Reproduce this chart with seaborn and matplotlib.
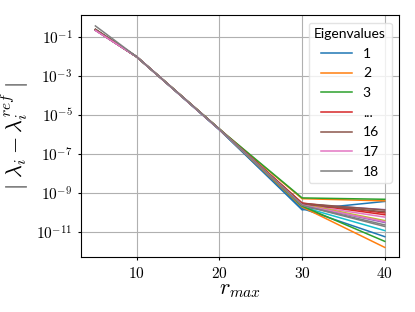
import numpy as np
import pandas as pd
import seaborn as sns
import matplotlib.pyplot as plt

# r_max values and log10 of the eigenvalue errors
r_max = [5, 10, 20, 30, 40]
eig_ids = list(range(1, 19))
log_err_5 = [-0.66, -0.66, -0.64, -0.65, -0.66, -0.65, -0.68, -0.62, -0.65,
             -0.66, -0.66, -0.66, -0.64, -0.65, -0.66, -0.62, -0.68, -0.45]
log_err_10 = [-2.03] * 18
log_err_20 = [-5.75, -5.73, -5.72, -5.73, -5.74, -5.73, -5.74, -5.73, -5.73,
              -5.75, -5.76, -5.74, -5.72, -5.73, -5.74, -5.73, -5.74, -5.73]
log_err_30 = [-9.85, -9.28, -9.24, -9.50, -9.55, -9.52, -9.58, -9.62, -9.56,
              -9.70, -9.78, -9.70, -9.66, -9.52, -9.60, -9.55, -9.60, -9.62]
log_err_40 = [-9.42, -9.39, -9.31, -10.01, -9.84, -9.86, -10.22, -10.70, -10.40,
              -10.91, -11.22, -11.77, -11.46, -10.10, -10.50, -9.95, -10.45, -10.62]
y_ticks = [1e-11, 1e-9, 1e-7, 1e-5, 1e-3, 1e-1]

rows = []
for i, e in enumerate(eig_ids):
    for r, col in zip(r_max, [log_err_5, log_err_10, log_err_20, log_err_30, log_err_40]):
        rows.append({'r': r, 'err': 10 ** col[i], 'eig': e})
df = pd.DataFrame(rows)

plt.rcParams['mathtext.fontset'] = 'cm'
plt.rcParams['font.family'] = 'serif'
plt.rcParams['font.serif'] = ['cmr10', 'DejaVu Serif']
plt.rcParams['axes.formatter.use_mathtext'] = True

fig, ax = plt.subplots(figsize=(4.15, 3.12), dpi=100)
palette = (sns.color_palette('tab10', 10) * 2)[:18]
sns.lineplot(data=df, x='r', y='err', hue='eig', palette=palette, legend=False,
             linewidth=1.1, ax=ax)
ax.set_yscale('log')
ax.set_yticks(y_ticks)
ax.set_ylim(10 ** -12.28, 10 ** 0.11)
ax.set_xticks([10, 20, 30, 40])
ax.grid(True, color='#b0b0b0', linewidth=0.8)
ax.tick_params(labelsize=11, length=2.5)
ax.set_xlabel(r'$r_{max}$', fontsize=16, labelpad=0)
ax.set_ylabel(r'$|\ \lambda_i - \lambda_i^{ref}\ |$', fontsize=16)

# legend: first three, a gap marker, last three
lines = ax.get_lines()
shown = [0, 1, 2, 3, 15, 16, 17]
labels = ['1', '2', '3', '...', '16', '17', '18']
leg = ax.legend([lines[i] for i in shown], labels, title='Eigenvalues',
                prop={'family': 'Lato', 'size': 10}, loc='upper right',
                framealpha=0.8, edgecolor='#dddddd', fancybox=True,
                labelspacing=0.55, handlelength=2.2, borderaxespad=0.55)
leg.get_title().set_family('Lato')
leg.get_title().set_fontsize(10)

fig.subplots_adjust(left=0.195, right=0.962, top=0.952, bottom=0.175)
fig.savefig('out.png', dpi=100)
